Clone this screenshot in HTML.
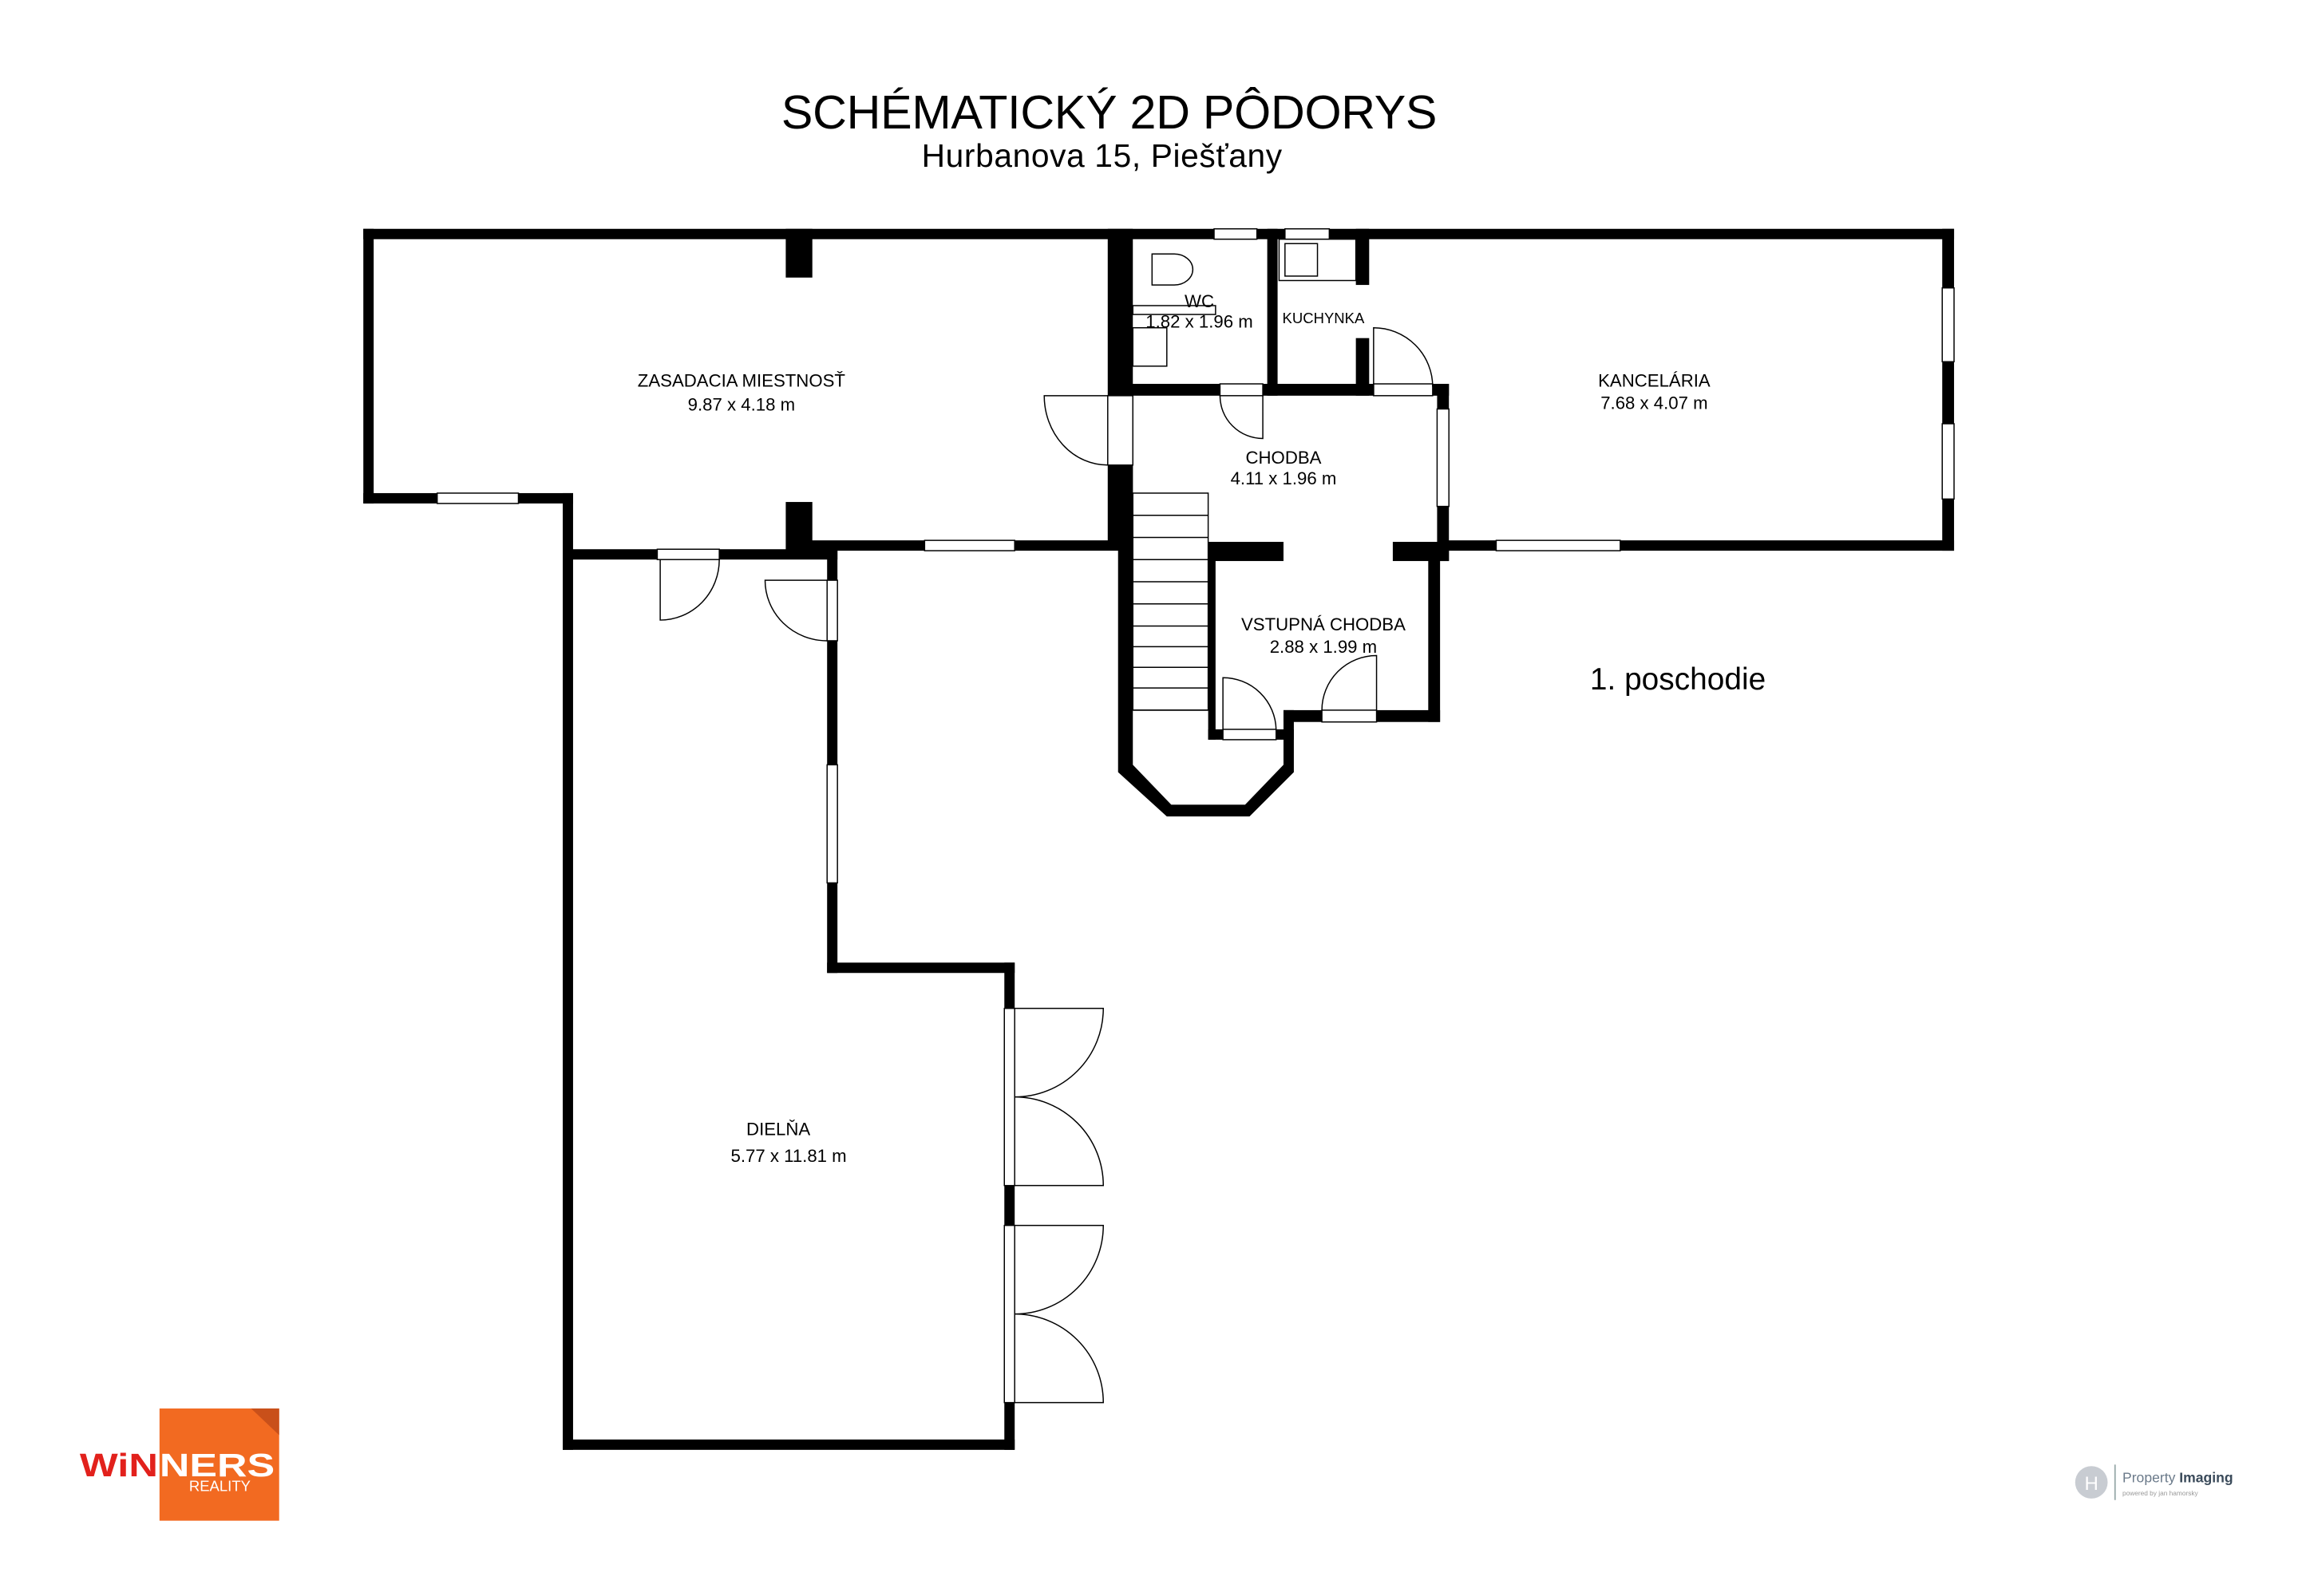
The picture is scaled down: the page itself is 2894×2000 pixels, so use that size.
<!DOCTYPE html>
<html><head><meta charset="utf-8"><style>
html,body{margin:0;padding:0;background:#fff}
svg{display:block}
text{font-family:"Liberation Sans","DejaVu Sans",sans-serif;fill:#000}
</style></head><body>
<svg width="2894" height="2000" viewBox="0 0 1564 1081" preserveAspectRatio="none" xmlns="http://www.w3.org/2000/svg">
<rect width="1564" height="1081" fill="#fff"/>
<text x="751" y="87" font-size="32" text-anchor="middle" textLength="444">SCHÉMATICKÝ 2D PÔDORYS</text>
<text x="746" y="113" font-size="22" text-anchor="middle" textLength="244">Hurbanova 15, Piešťany</text>
<g fill="#000">
<rect x="246" y="155" width="1077" height="7"/>
<rect x="246" y="155" width="7" height="186"/>
<rect x="246" y="334" width="142" height="7"/>
<rect x="381" y="334" width="7" height="648"/>
<rect x="381" y="975" width="306" height="7"/>
<rect x="680" y="652" width="7" height="330"/>
<rect x="560" y="652" width="127" height="7"/>
<rect x="560" y="372" width="7" height="287"/>
<rect x="381" y="372" width="186" height="7"/>
<rect x="532" y="155" width="18" height="33"/>
<rect x="532" y="340" width="18" height="33"/>
<rect x="545" y="366" width="215" height="7"/>
<rect x="750" y="155" width="17" height="113"/>
<rect x="750" y="315" width="17" height="55"/>
<polygon points="757,315 767,315 767,518 793,545 843,545 869,518 869,481 876,481 876,523 846,553 790,553 757,523"/>
<rect x="757" y="260" width="224" height="8"/>
<rect x="858" y="155" width="7" height="113"/>
<rect x="918" y="155" width="9" height="38"/>
<rect x="918" y="229" width="9" height="39"/>
<rect x="973" y="260" width="8" height="120"/>
<rect x="818" y="367" width="51" height="13"/>
<rect x="943" y="367" width="38" height="13"/>
<rect x="967" y="372" width="8" height="117"/>
<rect x="869" y="481" width="106" height="8"/>
<rect x="818" y="372" width="5" height="129"/>
<rect x="818" y="494" width="58" height="7"/>
<rect x="975" y="366" width="348" height="7"/>
<rect x="1315" y="155" width="8" height="218"/>
</g>
<g fill="#fff" stroke="#000" stroke-width="0.8">
<rect x="822" y="155" width="29" height="7"/>
<rect x="870" y="155" width="30" height="7"/>
<rect x="296" y="334" width="55" height="7"/>
<rect x="626" y="366" width="61" height="7"/>
<rect x="1013" y="366" width="84" height="7"/>
<rect x="560" y="393" width="7" height="41"/>
<rect x="560" y="518" width="7" height="80"/>
<rect x="1315" y="195" width="8" height="50"/>
<rect x="1315" y="287" width="8" height="51"/>
<rect x="973" y="277" width="8" height="66"/>
<rect x="750" y="268" width="17" height="47"/>
<rect x="445" y="372" width="42" height="7"/>
<rect x="826" y="260" width="29" height="8"/>
<rect x="930" y="260" width="40" height="8"/>
<rect x="895" y="481" width="37" height="8"/>
<rect x="828" y="494" width="36" height="7"/>
<rect x="680" y="683" width="7" height="120"/>
<rect x="680" y="830" width="7" height="120"/>
</g>
<g fill="none" stroke="#000" stroke-width="0.8">
<path d="M750,268 L707,268 A43,47 0 0 0 750,315"/>
<path d="M447,379 L447,420 A40,41 0 0 0 487,379"/>
<path d="M560,393 L518,393 A42,41 0 0 0 560,434"/>
<path d="M855,268 L855,297 A29,29 0 0 1 826,268"/>
<path d="M930,268 L930,222 A40,40 0 0 1 970,262"/>
<path d="M932,481 L932,444 A37,37 0 0 0 895,481"/>
<path d="M828,494 L828,459 A36,36 0 0 1 864,494"/>
<path d="M687,683 L747,683 A60,60 0 0 1 687,743 A60,60 0 0 1 747,803 L687,803"/>
<path d="M687,830 L747,830 A60,60 0 0 1 687,890 A60,60 0 0 1 747,950 L687,950"/>
<rect x="767" y="334" width="51" height="147"/>
<path d="M767,349 H818 M767,364 H818 M767,379 H818 M767,394 H818 M767,409 H818 M767,424 H818 M767,438 H818 M767,452 H818 M767,466 H818 M767,481 H818"/>
<path d="M780,172 L795,172 A12,10 0 0 1 795,193 L780,193 Z"/>
<rect x="767" y="207" width="56" height="6"/>
<rect x="767" y="222" width="23" height="26"/>
<rect x="866" y="162" width="52" height="28"/>
<rect x="870" y="165" width="22" height="22"/>
</g>
<g font-size="12" text-anchor="middle">
<text x="502" y="262">ZASADACIA MIESTNOSŤ</text><text x="502" y="278">9.87 x 4.18 m</text>
<text x="812" y="208">WC</text><text x="812" y="222">1.82 x 1.96 m</text>
<text x="896" y="219" font-size="10">KUCHYNKA</text>
<text x="869" y="314">CHODBA</text><text x="869" y="328">4.11 x 1.96 m</text>
<text x="1120" y="262">KANCELÁRIA</text><text x="1120" y="277">7.68 x 4.07 m</text>
<text x="896" y="427">VSTUPNÁ CHODBA</text><text x="896" y="442">2.88 x 1.99 m</text>
<text x="527" y="769">DIELŇA</text><text x="534" y="787">5.77 x 11.81 m</text>
</g>
<text x="1136" y="467" font-size="21" text-anchor="middle">1. poschodie</text>
<rect x="108" y="954" width="81" height="76" fill="#f26a21"/>
<polygon points="170,954 189,954 189,972" fill="#c9501a"/>
<text x="54" y="1000" font-size="22" font-weight="bold" textLength="53" lengthAdjust="spacingAndGlyphs" style="fill:#e2211c">WiN</text>
<text x="108" y="1000" font-size="22" font-weight="bold" textLength="78" lengthAdjust="spacingAndGlyphs" style="fill:#fff">NERS</text>
<text x="128" y="1010" font-size="10" style="fill:#fff">REALITY</text>
<circle cx="1416" cy="1004" r="11" fill="#c8ccd2"/>
<text x="1416" y="1009" font-size="13" text-anchor="middle" style="fill:#fff">H</text>
<line x1="1432" y1="992" x2="1432" y2="1016" stroke="#9aa" stroke-width="1"/>
<text x="1437" y="1004" font-size="9.5" style="fill:#6b7a8a">Property <tspan font-weight="bold" style="fill:#3a4a5a">Imaging</tspan></text>
<text x="1437" y="1013" font-size="4.5" style="fill:#999">powered by jan hamorsky</text>
</svg>
</body></html>
